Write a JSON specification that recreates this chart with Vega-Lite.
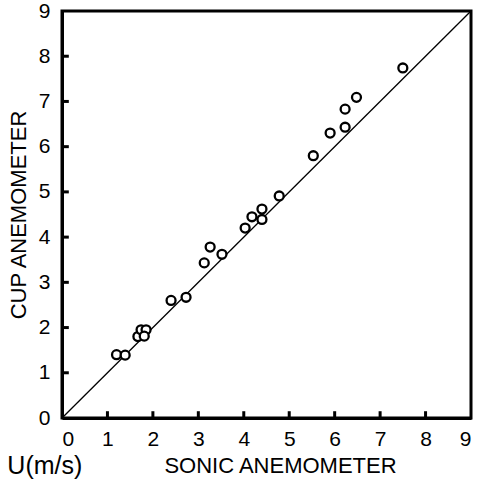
{
  "$schema": "https://vega.github.io/schema/vega-lite/v6.json",
  "width": 409,
  "height": 407,
  "autosize": "none",
  "padding": {"left": 62, "top": 11, "right": 11, "bottom": 64},
  "background": "white",
  "config": {
    "font": "Liberation Sans",
    "view": {"stroke": "black", "strokeWidth": 3},
    "axis": {"grid": false, "ticks": false, "domainColor": "black", "domainWidth": 3, "labelColor": "black", "titleColor": "black", "labelFont": "Liberation Sans", "titleFont": "Liberation Sans", "labelFontSize": 21, "titleFontSize": 22, "titleFontWeight": "normal"}
  },
  "title": {"text": "U(m/s)", "orient": "bottom", "anchor": "start", "frame": "bounds", "dx": 0, "offset": -22, "fontSize": 25, "fontWeight": "normal", "font": "Liberation Sans", "color": "black"},
  "datasets": {
    "points": [
      {"sonic": 1.2, "cup": 1.4},
      {"sonic": 1.39, "cup": 1.39},
      {"sonic": 1.67, "cup": 1.8},
      {"sonic": 1.74, "cup": 1.95},
      {"sonic": 1.85, "cup": 1.95},
      {"sonic": 1.81, "cup": 1.81},
      {"sonic": 2.4, "cup": 2.6},
      {"sonic": 2.73, "cup": 2.67},
      {"sonic": 3.13, "cup": 3.43},
      {"sonic": 3.26, "cup": 3.78},
      {"sonic": 3.52, "cup": 3.62},
      {"sonic": 4.03, "cup": 4.2},
      {"sonic": 4.18, "cup": 4.45},
      {"sonic": 4.4, "cup": 4.62},
      {"sonic": 4.4, "cup": 4.39},
      {"sonic": 4.78, "cup": 4.91},
      {"sonic": 5.53, "cup": 5.8},
      {"sonic": 5.9, "cup": 6.3},
      {"sonic": 6.23, "cup": 6.43},
      {"sonic": 6.23, "cup": 6.83},
      {"sonic": 6.48, "cup": 7.09},
      {"sonic": 7.5, "cup": 7.74}
    ],
    "line": [
      {"sonic": 0, "cup": 0},
      {"sonic": 9, "cup": 9}
    ],
    "ticks": [
      {"v": 1, "z": 0}, {"v": 2, "z": 0}, {"v": 3, "z": 0}, {"v": 4, "z": 0}, {"v": 5, "z": 0}, {"v": 6, "z": 0}, {"v": 7, "z": 0}, {"v": 8, "z": 0}
    ]
  },
  "layer": [
    {
      "data": {"name": "line"},
      "mark": {"type": "line", "color": "black", "strokeWidth": 1.3},
      "encoding": {
        "x": {"field": "sonic", "type": "quantitative", "scale": {"domain": [0, 9], "nice": false, "zero": true}, "axis": {"values": [0,1,2,3,4,5,6,7,8,9], "title": "SONIC ANEMOMETER", "labelPadding": 10, "titlePadding": 6, "titleX": 218}},
        "y": {"field": "cup", "type": "quantitative", "scale": {"domain": [0, 9], "nice": false, "zero": true}, "axis": {"values": [0,1,2,3,4,5,6,7,8,9], "title": "CUP ANEMOMETER", "labelPadding": 12, "titlePadding": 8}}
      }
    },
    {
      "data": {"name": "ticks"},
      "mark": {"type": "rule", "color": "black", "strokeWidth": 3},
      "encoding": {
        "x": {"field": "v", "type": "quantitative"},
        "y": {"field": "z", "type": "quantitative"},
        "y2": {"datum": 0.15}
      }
    },
    {
      "data": {"name": "ticks"},
      "mark": {"type": "rule", "color": "black", "strokeWidth": 3},
      "encoding": {
        "y": {"field": "v", "type": "quantitative"},
        "x": {"field": "z", "type": "quantitative"},
        "x2": {"datum": 0.15}
      }
    },
    {
      "data": {"name": "points"},
      "mark": {"type": "point", "shape": "circle", "filled": false, "fill": "white", "fillOpacity": 1, "stroke": "black", "strokeWidth": 2.3, "size": 80, "opacity": 1},
      "encoding": {
        "x": {"field": "sonic", "type": "quantitative"},
        "y": {"field": "cup", "type": "quantitative"}
      }
    }
  ]
}
